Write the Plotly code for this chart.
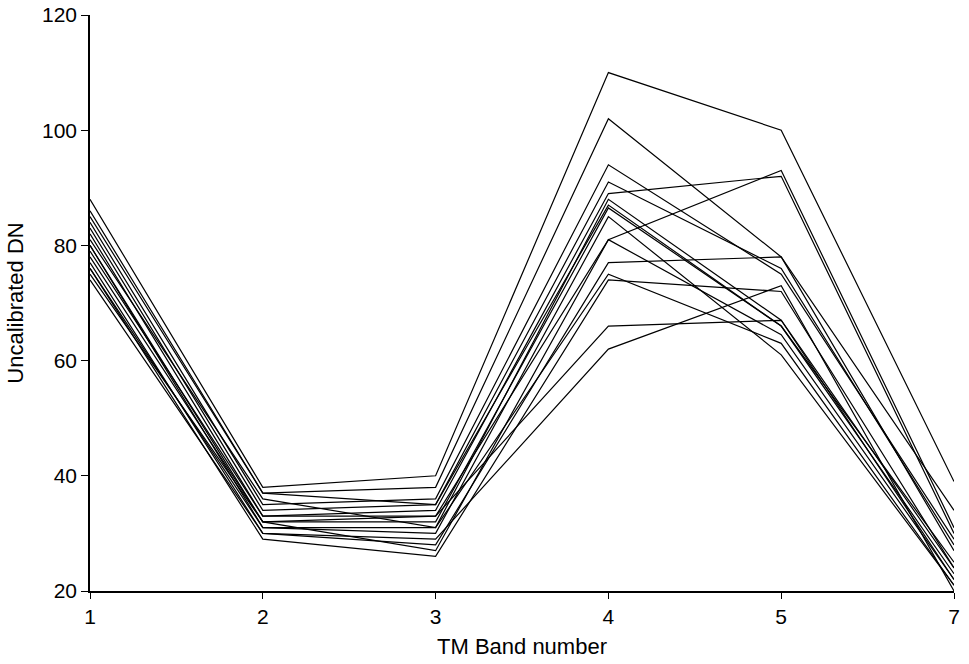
import plotly.graph_objects as go

bands = ["1", "2", "3", "4", "5", "7"]
y_ticks = [20, 40, 60, 80, 100, 120]

# Uncalibrated DN per sample, values at bands 1,2,3,4,5,7
s01 = [88, 38, 40, 110, 100, 39]
s02 = [86, 37, 38, 102, 78, 34]
s03 = [84, 35, 36, 94, 75, 29]
s04 = [83, 34, 35, 91, 76, 28]
s05 = [82, 33, 34, 89, 92, 30]
s06 = [81, 36, 31, 88, 67, 24]
s07 = [80, 32, 32, 86.5, 66, 23]
s08 = [80, 31, 30, 85, 61, 21]
s09 = [79, 33, 33, 81, 93, 31]
s10 = [78, 32, 27, 81, 64.5, 22]
s11 = [77, 30, 28, 77, 78, 27]
s12 = [76, 31, 31, 75, 63, 21]
s13 = [76, 29, 26, 74, 72, 24]
s14 = [75, 32, 33, 66, 67, 22]
s15 = [74, 30, 29, 62, 73, 20]
s16 = [85, 37, 35, 87, 66, 25]

series = [s01, s02, s03, s04, s05, s06, s07, s08, s09, s10, s11, s12, s13, s14, s15, s16]

fig = go.Figure()
for s in series:
    fig.add_trace(go.Scatter(x=bands, y=s, mode="lines",
                             line=dict(color="black", width=1.2),
                             showlegend=False, hoverinfo="skip"))

font = dict(family="Liberation Sans, Arial, sans-serif", size=21, color="black")
title_font = dict(family="Liberation Sans, Arial, sans-serif", size=22, color="black")

fig.update_layout(
    width=969, height=664,
    autosize=False,
    margin=dict(l=90, r=15, t=15, b=73),
    paper_bgcolor="white", plot_bgcolor="white",
    font=font,
    xaxis=dict(
        type="category", range=[0, 5], automargin=False,
        showgrid=False, zeroline=False,
        showline=True, linecolor="black", linewidth=1.5,
        ticks="outside", ticklen=6, tickwidth=1.2, tickcolor="black",
        title=dict(text="TM Band number", standoff=12, font=title_font),
        tickfont=font,
    ),
    yaxis=dict(
        range=[20, 120], tickvals=y_ticks, automargin=False,
        showgrid=False, zeroline=False,
        showline=True, linecolor="black", linewidth=1.5,
        ticks="outside", ticklen=7, tickwidth=1.2, tickcolor="black",
        title=dict(text="Uncalibrated DN", standoff=12, font=title_font),
        tickfont=font,
    ),
)

fig.write_html("out.html", config={"displayModeBar": False},
               post_script="document.body.style.margin='0';document.body.style.padding='0';")
